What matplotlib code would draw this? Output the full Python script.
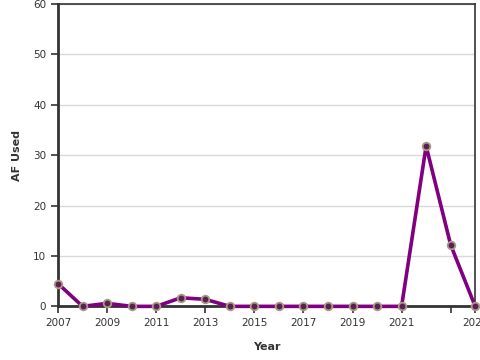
import matplotlib
matplotlib.use("Agg")
import matplotlib.pyplot as plt

years = list(range(2007, 2025))
af_used = [4.5, 0, 0.6, 0, 0, 1.7, 1.4, 0, 0, 0, 0, 0, 0, 0, 0, 31.8, 12.2, 0]
tick_years = [2007, 2009, 2011, 2013, 2015, 2017, 2019, 2021, 2023, 2024]
tick_labels = ["2007", "2009", "2011", "2013", "2015", "2017", "2019", "2021", "", "2024"]

fig = plt.figure(figsize=(4.8, 3.6), dpi=100)
ax = fig.add_axes([0.121, 0.149, 0.869, 0.84])

ax.plot(years, af_used, color="#800080", linewidth=2.6, clip_on=False, zorder=3)
ax.plot(years, af_used, linestyle="none", marker="o", markersize=5.5,
        markerfacecolor="#5c1e55", markeredgecolor="#a89a84", markeredgewidth=1.3,
        clip_on=False, zorder=4)

ax.set_xlim(2007, 2024)
ax.set_ylim(0, 60)
ax.set_yticks([0, 10, 20, 30, 40, 50, 60])
ax.set_xticks(tick_years)
ax.set_xticklabels(tick_labels)
ax.yaxis.grid(True, color="#d9d9d9", linewidth=1)
ax.set_axisbelow(True)

for side in ["top", "right", "bottom"]:
    ax.spines[side].set_color("#333333")
    ax.spines[side].set_linewidth(1.2)
ax.spines["left"].set_color("#333333")
ax.spines["left"].set_linewidth(2)
ax.spines["bottom"].set_linewidth(2)

ax.tick_params(axis="both", labelsize=7.5, colors="#333333", length=5, width=1.2)
ax.set_xlabel("Year", fontsize=8, fontweight="bold", color="#333333", labelpad=10)
ax.set_ylabel("AF Used", fontsize=8, fontweight="bold", color="#333333", labelpad=8)

fig.savefig("out.png", dpi=100)
